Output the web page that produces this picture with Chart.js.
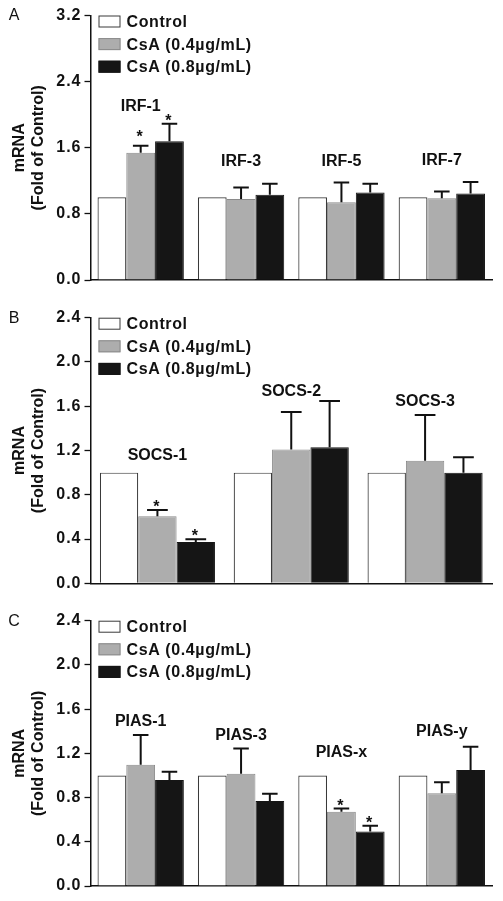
<!DOCTYPE html>
<html><head><meta charset="utf-8">
<script src="https://cdn.jsdelivr.net/npm/chart.js@4.4.1/dist/chart.umd.min.js"></script>
<style>
html,body{margin:0;padding:0;background:#fff;width:503px;height:901px;overflow:hidden;}
.p{position:absolute;left:0;}
canvas{display:block;}
</style></head><body>
<div class="p" style="top:0"><canvas id="cA" width="503" height="300"></canvas></div>
<div class="p" style="top:300px"><canvas id="cB" width="503" height="300"></canvas></div>
<div class="p" style="top:600px"><canvas id="cC" width="503" height="301"></canvas></div>
<script>
// ---------- data ----------
const seriesLabels = ['Control', 'CsA (0.4\u00b5g/mL)', 'CsA (0.8\u00b5g/mL)'];

// Panel A
const genesA = ['IRF-1', 'IRF-3', 'IRF-5', 'IRF-7'];
const controlA = [1, 1, 1, 1];
const csa04A = [1.54, 0.98, 0.94, 0.99];
const csa04ErrA = [0.085, 0.14, 0.24, 0.08];
const csa04SigA = [true, false, false, false];
const csa08A = [1.68, 1.03, 1.06, 1.045];
const csa08ErrA = [0.21, 0.135, 0.105, 0.14];
const csa08SigA = [true, false, false, false];
const yTicksA = [0, 0.8, 1.6, 2.4, 3.2];

// Panel B
const genesB = ['SOCS-1', 'SOCS-2', 'SOCS-3'];
const controlB = [1, 1, 1];
const csa04B = [0.605, 1.21, 1.108];
const csa04ErrB = [0.058, 0.338, 0.413];
const csa04SigB = [true, false, false];
const csa08B = [0.373, 1.229, 1.0];
const csa08ErrB = [0.025, 0.419, 0.139];
const csa08SigB = [true, false, false];
const yTicksB = [0, 0.4, 0.8, 1.2, 1.6, 2.0, 2.4];

// Panel C
const genesC = ['PIAS-1', 'PIAS-3', 'PIAS-x', 'PIAS-y'];
const controlC = [1, 1, 1, 1];
const csa04C = [1.097, 1.016, 0.672, 0.838];
const csa04ErrC = [0.269, 0.229, 0.03, 0.10];
const csa04SigC = [false, false, true, false];
const csa08C = [0.959, 0.769, 0.494, 1.049];
const csa08ErrC = [0.075, 0.066, 0.052, 0.211];
const csa08SigC = [false, false, true, false];
const yTicksC = [0, 0.4, 0.8, 1.2, 1.6, 2.0, 2.4];

// ---------- styling ----------
const FONT = 'Arial, "Liberation Sans", Helvetica, sans-serif';
const COLORS = ['#ffffff', '#adadad', '#151515'];
const BORDERS = ['#3a3a3a', '#8a8a8a', '#151515'];

const annot = {
  id: 'annot',
  beforeDraw(chart) {
    const s = chart.scales.y;
    if (s && !s._lsWrapped) {
      const orig = s.drawLabels.bind(s);
      s.drawLabels = (ca) => {
        const ctx = chart.ctx;
        ctx.save();
        try { ctx.letterSpacing = '1px'; } catch (e) {}
        orig(ca);
        ctx.restore();
      };
      s._lsWrapped = true;
    }
  },
  afterDatasetsDraw(chart, args, opts) {
    const ctx = chart.ctx, xs = chart.scales.x, ys = chart.scales.y;
    ctx.save();
    chart.data.datasets.forEach((ds, di) => {
      if (!ds.errors) return;
      const meta = chart.getDatasetMeta(di);
      meta.data.forEach((bar, i) => {
        const v = ds.data[i], e = ds.errors[i];
        const top = ys.getPixelForValue(v + e);
        const base = ys.getPixelForValue(v);
        const w = bar.width * 0.54;
        ctx.strokeStyle = '#111';
        ctx.lineWidth = 2;
        ctx.beginPath();
        ctx.moveTo(bar.x, base); ctx.lineTo(bar.x, top);
        ctx.moveTo(bar.x - w / 2, top); ctx.lineTo(bar.x + w / 2, top);
        ctx.stroke();
        if (ds.sig && ds.sig[i]) {
          const lift = (opts.starLift && opts.starLift[di + '-' + i]) || 0;
          ctx.fillStyle = '#111';
          ctx.font = 'bold 16px ' + FONT;
          ctx.textAlign = 'center';
          ctx.textBaseline = 'alphabetic';
          ctx.fillText('*', bar.x - 1, top - 7 - lift + 9.2);
        }
      });
    });
    // group labels
    ctx.fillStyle = '#111';
    ctx.font = 'bold 16px ' + FONT;
    ctx.textAlign = 'center';
    ctx.textBaseline = 'middle';
    chart.data.labels.forEach((lab, i) => {
      ctx.fillText(lab, xs.getPixelForValue(i), ys.getPixelForValue(opts.labelY[i]));
    });
    ctx.restore();
  },
  afterDraw(chart, args, opts) {
    const ctx = chart.ctx, ca = chart.chartArea;
    ctx.save();
    // legend
    const bx = ca.left + 8, bw = 22, bh = 12;
    chart.data.datasets.forEach((ds, di) => {
      const cy = ca.top + 6 + di * 22.6;
      ctx.fillStyle = ds.backgroundColor;
      ctx.fillRect(bx, cy - bh / 2, bw, bh);
      ctx.strokeStyle = ds.borderColor;
      ctx.lineWidth = 1;
      ctx.strokeRect(bx + 0.5, cy - bh / 2 + 0.5, bw - 1, bh - 1);
      ctx.fillStyle = '#111';
      ctx.font = 'bold 16px ' + FONT;
      ctx.textAlign = 'left';
      ctx.textBaseline = 'middle';
      try { ctx.letterSpacing = '0.6px'; } catch (e) {}
      ctx.fillText(ds.label, bx + bw + 6, cy + 1);
      try { ctx.letterSpacing = '0px'; } catch (e) {}
    });
    // panel letter
    ctx.fillStyle = '#111';
    ctx.font = '16px ' + FONT;
    ctx.textAlign = 'center';
    ctx.textBaseline = 'middle';
    ctx.fillText(opts.letter, 14, ca.top + 0.5);
    ctx.restore();
  }
};

function makeChart(id, genes, ctrl, s04, e04, g04, s08, e08, g08, ticks, pad, labelY, letter, starLift) {
  return new Chart(document.getElementById(id), {
    type: 'bar',
    data: {
      labels: genes,
      datasets: [
        { label: seriesLabels[0], data: ctrl, backgroundColor: COLORS[0], borderColor: BORDERS[0], borderWidth: 1.2 },
        { label: seriesLabels[1], data: s04, errors: e04, sig: g04, backgroundColor: COLORS[1], borderColor: BORDERS[1], borderWidth: 1 },
        { label: seriesLabels[2], data: s08, errors: e08, sig: g08, backgroundColor: COLORS[2], borderColor: BORDERS[2], borderWidth: 1 }
      ]
    },
    options: {
      responsive: false,
      animation: false,
      devicePixelRatio: 1,
      categoryPercentage: 0.86,
      barPercentage: 1.0,
      layout: { padding: { top: pad[0], bottom: pad[1], left: 0, right: 11 } },
      plugins: {
        legend: { display: false },
        tooltip: { enabled: false },
        annot: { labelY: labelY, letter: letter, starLift: starLift || {} }
      },
      scales: {
        x: {
          offset: true,
          grid: { display: false },
          ticks: { display: false },
          border: { display: true, color: '#111', width: 1.5 },
          afterFit: s => { s.height = 0; }
        },
        y: {
          min: ticks[0], max: ticks[ticks.length - 1],
          afterBuildTicks: s => { s.ticks = ticks.map(v => ({ value: v })); },
          ticks: {
            padding: 3,
            color: '#111',
            font: { family: FONT, size: 16, weight: 'bold' },
            callback: v => Number(v).toFixed(1)
          },
          grid: { display: true, drawOnChartArea: false, drawTicks: true, tickLength: 6, tickColor: '#111', tickWidth: 1.3, color: '#111' },
          border: { display: true, color: '#111', width: 1.5 },
          title: {
            display: true,
            text: ['mRNA', '(Fold of Control)'],
            color: '#111',
            font: { family: FONT, size: 16, weight: 'bold', lineHeight: 1.2 },
            padding: { top: 9.5, bottom: 0 }
          },
          afterFit: s => { s.width = 90.5; }
        }
      }
    },
    plugins: [annot]
  });
}

makeChart('cA', genesA, controlA, csa04A, csa04ErrA, csa04SigA, csa08A, csa08ErrA, csa08SigA,
  yTicksA, [15.5, 20], [2.10, 1.43, 1.43, 1.45], 'A', { '1-0': 6 });
makeChart('cB', genesB, controlB, csa04B, csa04ErrB, csa04SigB, csa08B, csa08ErrB, csa08SigB,
  yTicksB, [17.7, 16.7], [1.15, 1.734, 1.638], 'B');
makeChart('cC', genesC, controlC, csa04C, csa04ErrC, csa04SigC, csa08C, csa08ErrC, csa08SigC,
  yTicksC, [20.7, 15], [1.487, 1.357, 1.21, 1.394], 'C');
</script>
</body></html>
